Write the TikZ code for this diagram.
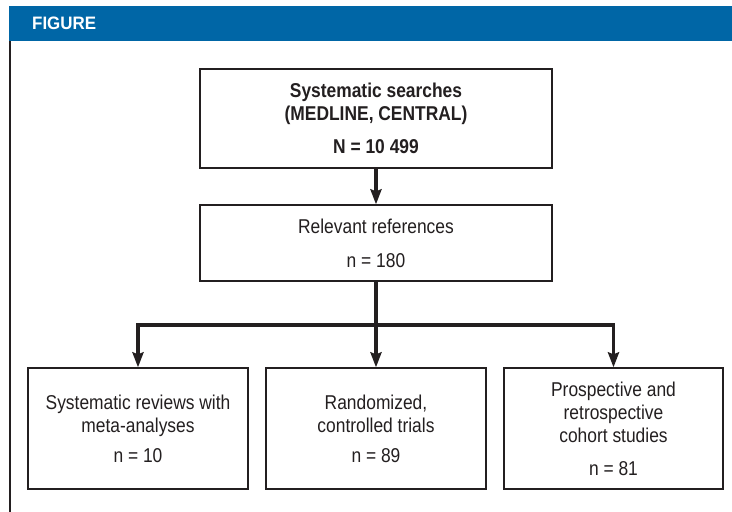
\documentclass[tikz,border=0pt]{standalone}
\usepackage{fontspec}
\setmainfont[FakeStretch=0.87]{Liberation Sans}
\newfontfamily\headfont[FakeStretch=0.94]{Liberation Sans}
\usepackage{xcolor}
\usepackage{tikz}
\usetikzlibrary{arrows.meta}
\definecolor{band}{HTML}{0066A6}
\definecolor{ink}{HTML}{231F20}
\tikzset{
  box/.style={draw=ink, line width=1.3pt, align=center, text=ink, inner sep=0pt,
    font=\fontsize{20}{23}\selectfont},
  flow/.style={draw=ink, line width=3.6pt, -{Stealth[length=15pt,width=11pt,inset=2pt]}},
  rule/.style={draw=ink, line width=2pt}
}

\begin{document}
\begin{tikzpicture}[x=1pt, y=-1pt]
  \useasboundingbox[fill=white] (0,0) rectangle (732,512);
  % header
  \fill[band] (9,6) rectangle (732,41);
  \node[anchor=base west, inner sep=0pt, text=white, font=\headfont\fontsize{18}{18}\selectfont\bfseries] (head) at (32,29.5) {FIGURE};
  \draw[rule] (10,41) -- (10,512);

  % boxes
  \node[box, minimum width=352pt, minimum height=99pt] (search) at (376,118.5)
    {\bfseries Systematic searches\\\bfseries (MEDLINE, CENTRAL)\\[10pt]\bfseries N = 10 499};
  \node[box, minimum width=352pt, minimum height=76pt] (rel) at (376,243)
    {Relevant references\\[11pt]n = 180};
  \node[box, minimum width=220pt, minimum height=121pt] (rev) at (138,428.5)
    {Systematic reviews with\\meta-analyses\\[7pt]n = 10};
  \node[box, minimum width=220pt, minimum height=121pt] (rct) at (376,428.5)
    {Randomized,\\controlled trials\\[7pt]n = 89};
  \node[box, minimum width=219pt, minimum height=121pt] (coh) at (613.5,428.5)
    {Prospective and\\retrospective\\cohort studies\\[10pt]n = 81};

  % arrows
  \coordinate (split) at (376,325);
  \draw[flow] (search) -- (rel);
  \draw[flow] (rel) -- (rct);
  \draw[flow] (split) -| (rev);
  \draw[flow] (split) -| (coh);
\end{tikzpicture}
\end{document}
